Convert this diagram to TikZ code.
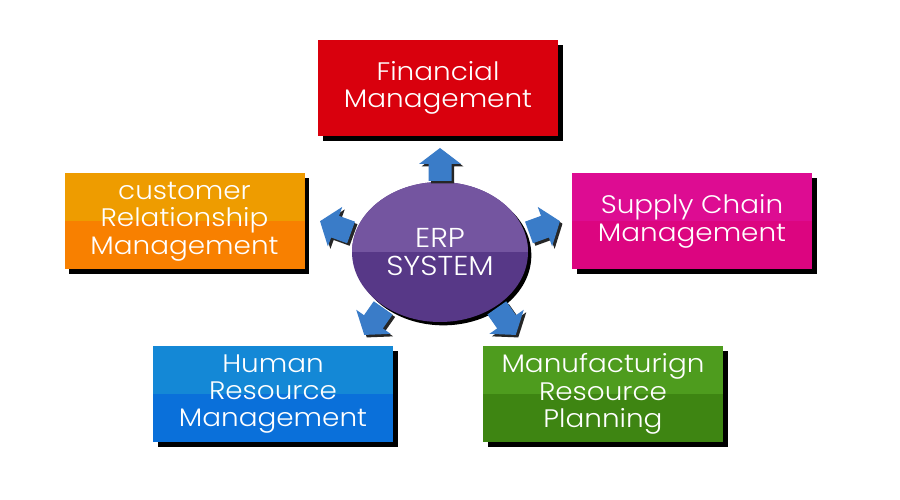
\documentclass[tikz,border=0pt]{standalone}
\usepackage{fontspec}
\setmainfont{Poppins Light}[FakeStretch=1.1]
\usetikzlibrary{shapes.geometric,shadows}

\definecolor{finred}{HTML}{D9000D}
\definecolor{crmtop}{HTML}{EE9C00}
\definecolor{crmbot}{HTML}{F88000}
\definecolor{scmtop}{HTML}{DD0C92}
\definecolor{scmbot}{HTML}{DC0580}
\definecolor{hrmtop}{HTML}{1488D6}
\definecolor{hrmbot}{HTML}{0A70DA}
\definecolor{mrptop}{HTML}{4E9C1E}
\definecolor{mrpbot}{HTML}{3E8512}
\definecolor{erptop}{HTML}{7455A0}
\definecolor{erpbot}{HTML}{573887}
\definecolor{arrowblue}{HTML}{3A7CC8}

\newcommand{\modfont}{\fontsize{19}{20.5}\selectfont}
\newcommand{\hubfont}{\fontsize{20.5}{21.5}\selectfont}

\tikzset{
  module/.style 2 args={rectangle, minimum width=180pt, minimum height=72pt,
    inner sep=0pt, fill=#2, text=white, align=center, font=\modfont,
    drop shadow={shadow xshift=3.5pt, shadow yshift=-3.5pt, fill=black, opacity=1},
    path picture={\fill[#1] (path picture bounding box.north west)
      rectangle (path picture bounding box.east);}},
  hub/.style={ellipse, minimum width=132pt, minimum height=105pt,
    inner sep=0pt, fill=erpbot, text=white, align=center, font=\hubfont,
    drop shadow={shadow xshift=2.5pt, shadow yshift=-2.5pt, fill=black, opacity=1},
    path picture={\fill[erptop] (path picture bounding box.north west)
      rectangle (path picture bounding box.east);}},
  arrowshadow/.style={fill=black!85},
  arrowbody/.style={fill=arrowblue}
}

% block arrow: x, y, angle
\newcommand{\erparrow}[3]{%
  \fill[arrowshadow, shift={(#1+2.5,#2-2.5)}, rotate=#3]
    (-16,-11.5) -- (1,-11.5) -- (1,-21) -- (17,0) -- (1,21) -- (1,11.5) -- (-16,11.5) -- cycle;
  \fill[arrowbody, shift={(#1,#2)}, rotate=#3]
    (-16,-11.5) -- (1,-11.5) -- (1,-21) -- (17,0) -- (1,21) -- (1,11.5) -- (-16,11.5) -- cycle;
}

\begin{document}
\begin{tikzpicture}[x=0.75pt,y=0.75pt]
\useasboundingbox (0,0) rectangle (900,500);
\fill[white] (0,0) rectangle (900,500);

% modules
\node[module={finred}{finred}] (fin) at (438,412) {Financial\\Management};
\node[module={crmtop}{crmbot}] (crm) at (184.5,278.5) {customer\\Relationship\\Management};
\node[module={scmtop}{scmbot}] (scm) at (692,278.5) {Supply Chain\\Management};
\node[module={hrmtop}{hrmbot}] (hrm) at (273,106) {Human\\Resource\\Management};
\node[module={mrptop}{mrpbot}] (mrp) at (603,106) {Manufacturign\\Resource\\Planning};

% centre
\node[hub] (erp) at (440,248) {ERP\\SYSTEM};

% arrows
\erparrow{440}{335}{90}
\erparrow{336}{273}{160}
\erparrow{544}{273}{20}
\erparrow{374}{179}{235}
\erparrow{506}{179}{305}
\end{tikzpicture}
\end{document}
